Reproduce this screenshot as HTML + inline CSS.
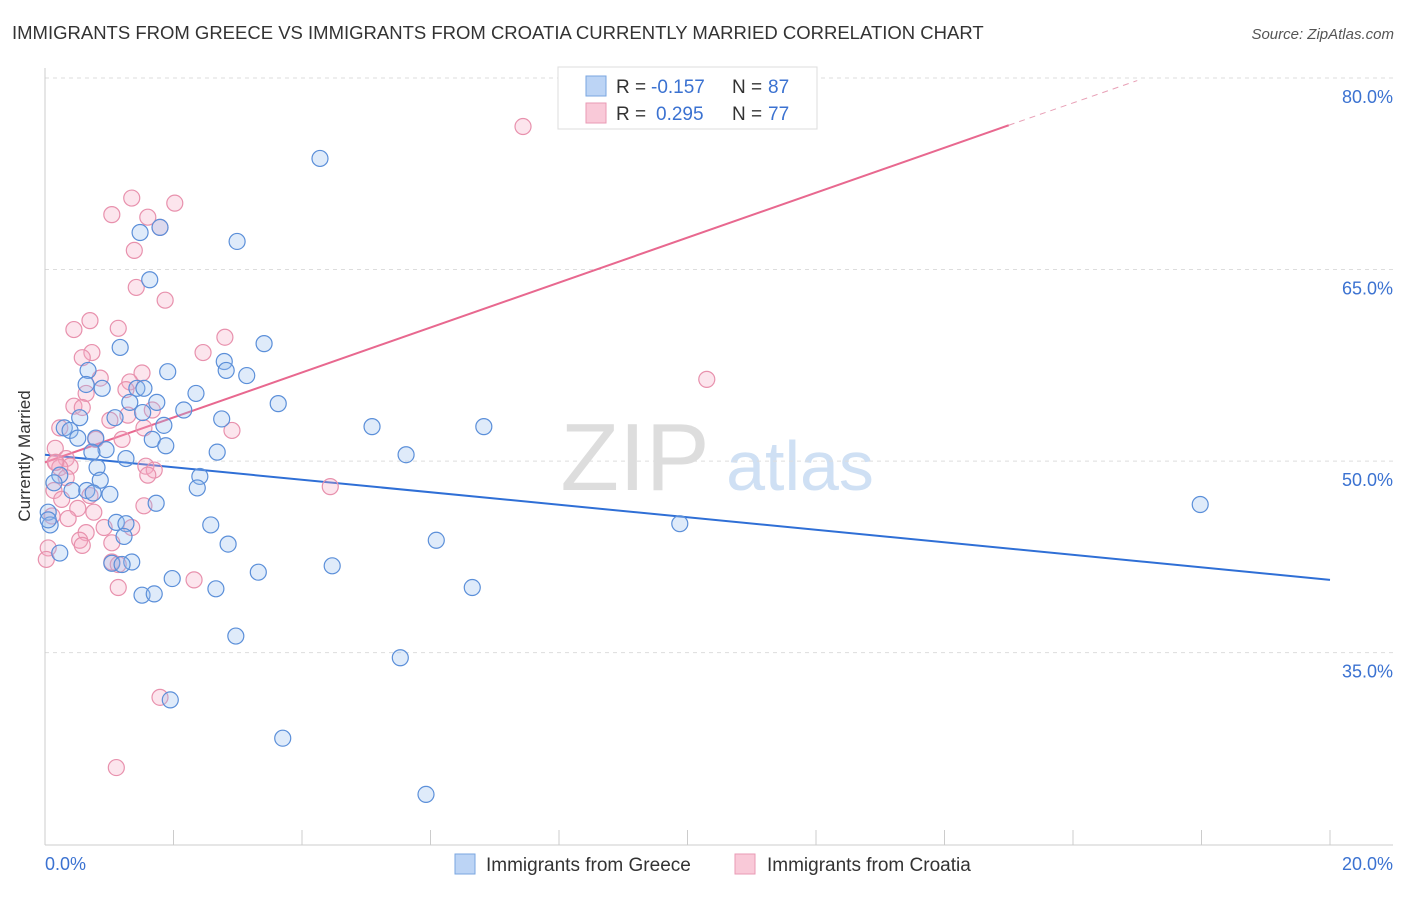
<!DOCTYPE html>
<html><head><meta charset="utf-8"><style>
body{margin:0;background:#fff;font-family:"Liberation Sans",sans-serif;}
svg text{font-family:"Liberation Sans",sans-serif;}
</style></head><body>
<svg id="chart" width="1406" height="892" xmlns="http://www.w3.org/2000/svg">
<text x="12" y="39" font-size="18.5" fill="#333">IMMIGRANTS FROM GREECE VS IMMIGRANTS FROM CROATIA CURRENTLY MARRIED CORRELATION CHART</text>
<text x="1394" y="39" font-size="15" fill="#555" font-style="italic" text-anchor="end">Source: ZipAtlas.com</text>
<text x="30" y="456" font-size="17" fill="#333" text-anchor="middle" transform="rotate(-90 30 456)">Currently Married</text>
<g><text x="635" y="490" font-size="96" fill="#ddd" font-family="Liberation Serif" text-anchor="middle">ZIP</text><text x="800" y="490" font-size="70" fill="#cfe0f4" text-anchor="middle">atlas</text></g>
<g id="grid"></g><g id="axes"></g><g id="lines"></g><g id="pts"></g>
<g>
<rect x="558" y="67" width="259" height="62" fill="#fff" stroke="#ddd"/>
<rect x="586" y="76" width="20" height="20" fill="#bcd4f5" stroke="#7aa6e0"/>
<rect x="586" y="103" width="20" height="20" fill="#f9c9d8" stroke="#e99ab4"/>
<text x="616" y="93" font-size="19" fill="#333">R =</text>
<text x="651" y="93" font-size="19" fill="#3b72d1">-0.157</text>
<text x="732" y="93" font-size="19" fill="#333">N =</text>
<text x="768" y="93" font-size="19" fill="#3b72d1">87</text>
<text x="616" y="120" font-size="19" fill="#333">R =</text>
<text x="656" y="120" font-size="19" fill="#3b72d1">0.295</text>
<text x="732" y="120" font-size="19" fill="#333">N =</text>
<text x="768" y="120" font-size="19" fill="#3b72d1">77</text>
</g>
<g>
<rect x="455" y="854" width="20" height="20" fill="#bcd4f5" stroke="#7aa6e0"/>
<text x="486" y="871" font-size="19" fill="#333">Immigrants from Greece</text>
<rect x="735" y="854" width="20" height="20" fill="#f9c9d8" stroke="#e99ab4"/>
<text x="767" y="871" font-size="19" fill="#333">Immigrants from Croatia</text>
</g>
</svg>
<script>
const yTicks=[80,65,50,35];
const yTickLabels=["80.0%","65.0%","50.0%","35.0%"];
const xTickLabels=["0.0%","20.0%"];
const greeceX=[4.28,2.99,1.48,1.79,1.63,1.17,3.41,2.79,2.82,1.91,3.14,0.67,0.64,0.89,1.43,1.54,2.35,3.63,1.74,1.32,2.16,1.52,1.09,0.54,2.75,1.85,5.09,6.83,0.30,0.39,0.51,0.79,1.67,1.88,0.95,0.73,2.68,1.26,5.62,0.81,0.23,2.41,0.86,0.14,0.42,0.65,1.01,2.37,0.75,1.73,17.98,0.05,0.08,1.11,1.26,2.58,9.88,1.23,6.09,2.85,0.23,1.04,1.35,1.20,3.32,4.47,1.98,6.65,2.66,1.51,1.70,2.97,5.53,1.95,3.70,5.93,0.05];
const greeceY=[73.7,67.2,67.9,68.3,64.2,58.9,59.2,57.8,57.1,57.0,56.7,57.1,56.0,55.7,55.7,55.7,55.3,54.5,54.6,54.6,54.0,53.8,53.4,53.4,53.3,52.8,52.7,52.7,52.6,52.4,51.8,51.8,51.7,51.2,50.9,50.7,50.7,50.2,50.5,49.5,48.9,48.8,48.5,48.3,47.7,47.7,47.4,47.9,47.5,46.7,46.6,46.0,45.0,45.2,45.1,45.0,45.1,44.1,43.8,43.5,42.8,42.0,42.1,41.9,41.3,41.8,40.8,40.1,40.0,39.5,39.6,36.3,34.6,31.3,28.3,23.9,45.4];
const croatiaX=[7.44,1.35,2.02,1.04,1.60,1.79,1.39,1.42,1.87,0.70,0.45,1.14,2.80,0.73,2.46,0.58,10.30,1.51,0.86,1.32,1.26,0.64,0.45,0.58,1.67,1.29,1.01,0.23,2.91,1.54,0.79,1.20,0.16,0.33,0.17,0.39,0.23,1.57,1.70,1.60,0.33,4.44,0.14,0.70,0.26,1.54,0.51,0.76,0.11,0.36,0.92,1.35,0.64,0.54,0.58,1.04,0.05,0.02,1.04,1.14,2.32,1.14,1.79,1.11,0.16];
const croatiaY=[76.2,70.6,70.2,69.3,69.1,68.3,66.5,63.6,62.6,61.0,60.3,60.4,59.7,58.5,58.5,58.1,56.4,56.9,56.5,56.2,55.6,55.3,54.3,54.2,54.0,53.6,53.2,52.6,52.4,52.6,51.7,51.7,51.0,50.2,49.9,49.6,49.5,49.6,49.3,48.9,48.7,48.0,47.7,47.3,47.0,46.5,46.3,46.0,45.7,45.5,44.8,44.8,44.4,43.8,43.4,43.6,43.2,42.3,42.1,41.9,40.7,40.1,31.5,26.0,49.9];
const greeceTrend=[50.5,40.7];
const croatiaTrend=[49.9,76.3,79.8];
const NS="http://www.w3.org/2000/svg";
const X=v=>45+v*64.25;
const Y=v=>78+(80-v)*12.77;
function mk(tag,attrs,parent){const e=document.createElementNS(NS,tag);for(const k in attrs)e.setAttribute(k,attrs[k]);document.getElementById(parent).appendChild(e);return e;}
yTicks.forEach((t,i)=>{
 const l=mk('line',{x1:45,x2:1393,y1:Y(t),y2:Y(t),stroke:'#ddd','stroke-dasharray':'4,4'},'grid');
 
 
 const tx=mk('text',{x:1393,y:Y(t)+25,'font-size':18,fill:'#3b72d1','text-anchor':'end'},'grid');
 tx.textContent=yTickLabels[i];
 
 
});
const ax=mk('line',{x1:45,x2:1393,y1:845,y2:845,stroke:'#ccc'},'axes');


const ay=mk('line',{x1:45,x2:45,y1:68,y2:845,stroke:'#ccc'},'axes');


for(let i=0;i<=10;i++){const t=mk('line',{x1:X(i*2),x2:X(i*2),y1:830,y2:845,stroke:'#ccc'},'axes');
 
 }
[[0,'start',45],[20,'end',1393]].forEach((d,i)=>{const t=mk('text',{x:d[2],y:870,'font-size':18,fill:'#3b72d1','text-anchor':d[1]},'axes');t.textContent=xTickLabels[i];
 
 });
const bl=mk('line',{x1:X(0),y1:Y(greeceTrend[0]),x2:X(20),y2:Y(greeceTrend[1]),stroke:'#2f6fd6','stroke-width':2},'lines');


const pl=mk('line',{x1:X(0),y1:Y(croatiaTrend[0]),x2:X(15),y2:Y(croatiaTrend[1]),stroke:'#e8688f','stroke-width':2},'lines');


const pd=mk('line',{x1:X(15),y1:Y(croatiaTrend[1]),x2:X(17),y2:Y(croatiaTrend[2]),stroke:'#e8a0b6','stroke-width':1,'stroke-dasharray':'6,5'},'lines');


croatiaX.forEach((x,i)=>{const c=mk('circle',{cx:X(x),cy:Y(croatiaY[i]),r:8,fill:'rgba(244,170,195,0.3)',stroke:'#e891ad','stroke-width':1.2},'pts');
 
 });
greeceX.forEach((x,i)=>{const c=mk('circle',{cx:X(x),cy:Y(greeceY[i]),r:8,fill:'rgba(150,190,240,0.3)',stroke:'#5b8fd9','stroke-width':1.2},'pts');
 
 });
</script>
</body></html>
